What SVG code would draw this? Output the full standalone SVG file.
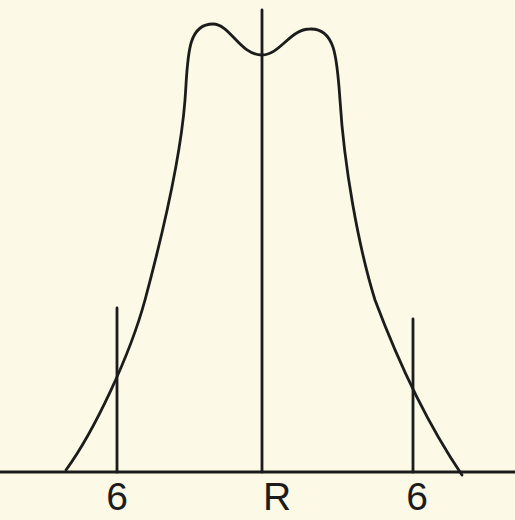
<svg xmlns="http://www.w3.org/2000/svg" width="515" height="520" viewBox="0 0 515 520">
  <style>
    .ln { fill: none; stroke: #1c1c1c; stroke-width: 2.8; stroke-linecap: round; stroke-linejoin: round; }
    .lbl { font-family: "Liberation Sans", "DejaVu Sans", sans-serif; font-size: 39px; fill: #1c1c1c; }
  </style>
  <rect x="0" y="0" width="515" height="520" fill="#fcf9e6"/>
  <g id="connectors">
    <line class="ln" x1="0" y1="472" x2="515" y2="472"/>
    <line class="ln" x1="262" y1="10" x2="262" y2="472"/>
    <line class="ln" x1="117" y1="308" x2="117" y2="472"/>
    <line class="ln" x1="413" y1="319" x2="413" y2="472"/>
  </g>
  <g id="curve">
    <path class="ln" d="M 66 470 C 95 430, 130 355, 145 300 C 160 244, 180 165, 185 100 C 188 60, 186 24, 213 24 C 230 24, 240 55, 262 55 C 280 55, 290 29, 310 29 C 336 28, 337 60, 340 100 C 344 165, 358 245, 375 300 C 390 340, 418 410, 462 475"/>
  </g>
  <g id="labels">
    <text class="lbl" x="117" y="510" text-anchor="middle">6</text>
    <text class="lbl" x="263" y="510">R</text>
    <text class="lbl" x="417" y="510" text-anchor="middle">6</text>
  </g>
</svg>
